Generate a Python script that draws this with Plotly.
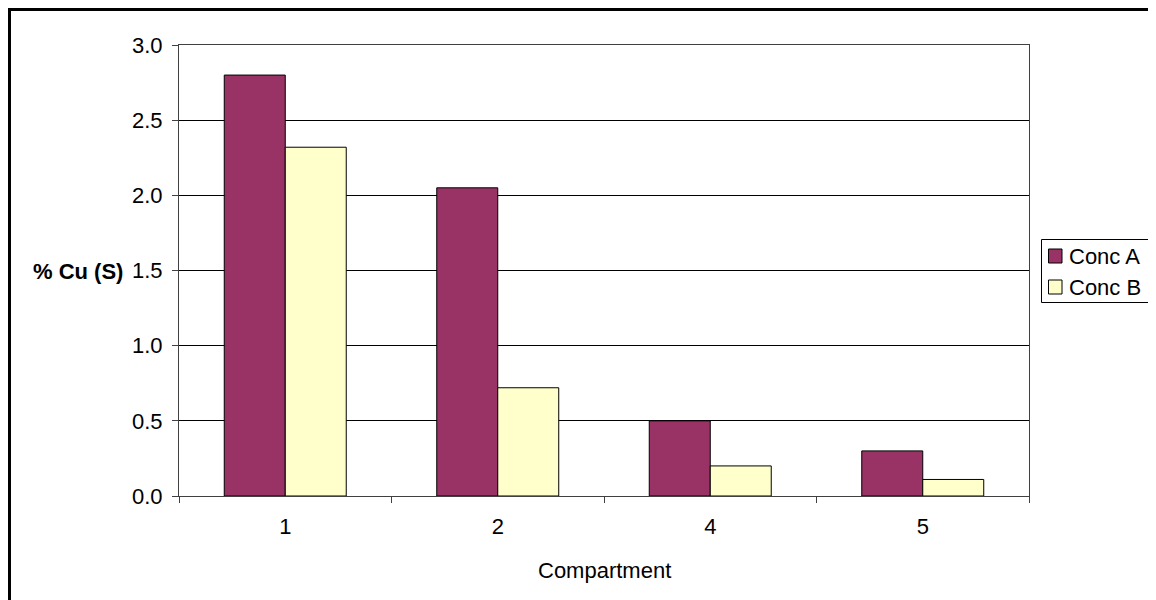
import plotly.graph_objects as go

categories = ["1", "2", "4", "5"]
conc_a = [2.80, 2.05, 0.50, 0.30]
conc_b = [2.32, 0.72, 0.20, 0.11]
series_names = ["Conc A", "Conc B"]
series_colors = ["#993366", "#FFFFCC"]
y_ticks = [0.0, 0.5, 1.0, 1.5, 2.0, 2.5, 3.0]
y_tick_labels = ["0.0", "0.5", "1.0", "1.5", "2.0", "2.5", "3.0"]

OFF = 8  # page body margin
W, H = 1156 - OFF, 600 - OFF
# target plot area in screen pixels
PL, PR, PT, PB = 179, 1029, 45, 496
L, R, T, B = PL - OFF, W - (PR - OFF), PT - OFF, H - (PB - OFF)
pw, ph = PR - PL, PB - PT

def px(x):
    return (x - PL) / pw

def py(y):
    return (PB - y) / ph

font = "Liberation Sans, Arial, sans-serif"
FS = 22

fig = go.Figure()
for name, vals, col in zip(series_names, [conc_a, conc_b], series_colors):
    fig.add_trace(go.Bar(x=categories, y=vals, name=name, showlegend=False,
                         marker=dict(color=col, line=dict(color="#000000", width=1))))

# custom legend (box, swatches, labels)
shapes = [
    dict(type="line", xref="paper", yref="paper", x0=px(9.5), x1=px(9.5),
         y0=py(8), y1=py(620), line=dict(color="#000000", width=3)),
    dict(type="line", xref="paper", yref="paper", x0=px(8), x1=px(1170),
         y0=py(9.5), y1=py(9.5), line=dict(color="#000000", width=3)),
    dict(type="rect", xref="paper", yref="paper", x0=px(1041.5), x1=px(1148.5),
         y0=py(239.5), y1=py(302.5), line=dict(color="#000000", width=1),
         fillcolor="white"),
]
annotations = [
    dict(text="<b>% Cu (S)</b>", xref="paper", yref="paper",
         x=px(78), y=py(271), showarrow=False,
         font=dict(family=font, size=FS), xanchor="center", yanchor="middle"),
    dict(text="Compartment", xref="paper", yref="paper",
         x=px(604), y=py(570), showarrow=False,
         font=dict(family=font, size=FS), xanchor="center", yanchor="middle"),
]
row_y = [256, 287]
for name, col, yc in zip(series_names, series_colors, row_y):
    shapes.append(dict(type="rect", xref="paper", yref="paper",
                       x0=px(1048.5), x1=px(1062), y0=py(yc - 7), y1=py(yc + 7),
                       line=dict(color="#000000", width=1), fillcolor=col))
    annotations.append(dict(text=name, xref="paper", yref="paper",
                            x=px(1067), y=py(yc), showarrow=False,
                            xanchor="left", yanchor="middle",
                            font=dict(family=font, size=FS)))

fig.update_layout(
    width=W, height=H,
    margin=dict(l=L, r=R, t=T, b=B, autoexpand=False),
    paper_bgcolor="white", plot_bgcolor="white",
    font=dict(family=font, size=FS, color="#000000"),
    barmode="group", bargap=0.426, bargroupgap=0,
    showlegend=False,
    xaxis=dict(type="category", tickson="boundaries", ticks="outside", ticklen=6,
               tickcolor="#404040", showline=True, linecolor="#404040", mirror=True,
               showgrid=False, tickfont=dict(size=FS), ticklabelstandoff=11),
    yaxis=dict(range=[0, 3.0], tickvals=y_ticks, ticktext=y_tick_labels,
               ticks="outside", ticklen=6, tickcolor="#404040",
               showline=True, linecolor="#404040", mirror=True,
               showgrid=True, gridcolor="#000000", gridwidth=1,
               zeroline=False, tickfont=dict(size=FS), ticklabelstandoff=5),
    annotations=annotations,
    shapes=shapes,
)

fig.write_html("out.html")
